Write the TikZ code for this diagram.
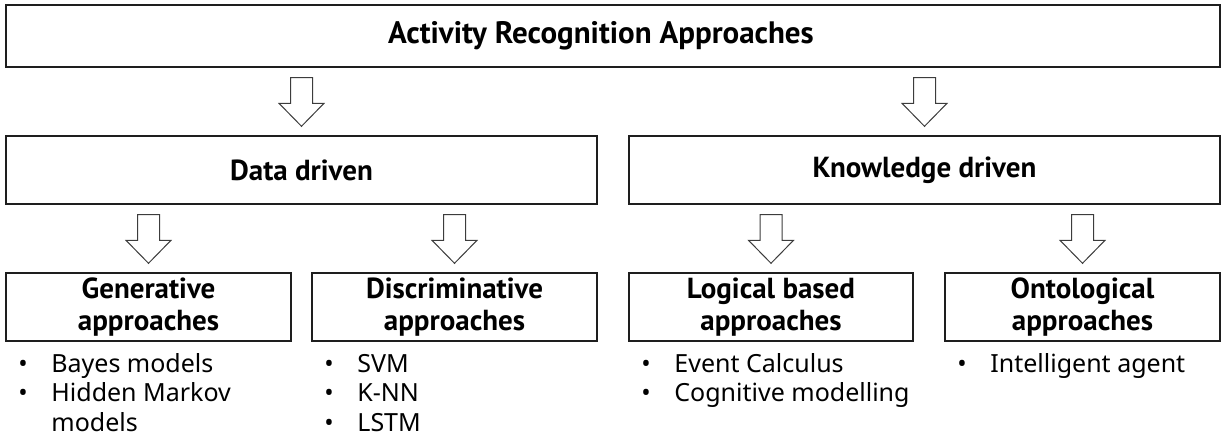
\documentclass[tikz,border=0pt]{standalone}
\usepackage{fontspec}
\setmainfont{Noto Sans}
\newfontfamily\headfont{PT Sans}
\usetikzlibrary{positioning,calc}
\definecolor{BoxLine}{RGB}{30,30,30}
\definecolor{ArrowLine}{RGB}{60,60,60}
\tikzset{
  box/.style={draw=BoxLine,line width=0.7pt,inner sep=0pt,align=center,
    font=\headfont\bfseries\fontsize{14.5}{16}\selectfont},
  blockarr/.style={draw=ArrowLine,fill=white,line width=0.5pt,line join=miter},
  itm/.style={anchor=base west,inner sep=0pt,font=\fontsize{12.5}{14}\selectfont},
}
% hollow block arrow from the bottom of #1 down to the top of #2
\newcommand{\blockdown}[2]{%
  \draw[blockarr] let \p1=($(#2.north |- #1.south)+(0,10)$), \p2=($(#2.north)+(0,-9)$) in
    (\x1-5.5pt,\y1) -- (\x1+5.5pt,\y1) -- (\x1+5.5pt,\y2+11.5pt) -- (\x1+11.25pt,\y2+11.5pt)
    -- (\x2,\y2) -- (\x1-11.25pt,\y2+11.5pt) -- (\x1-5.5pt,\y2+11.5pt) -- cycle;}
\newcommand{\bul}{\makebox[16.5pt][l]{\textbullet}}
\newcommand{\nobul}{\hspace*{16.5pt}}

\begin{document}
\begin{tikzpicture}[x=0.5pt,y=-0.5pt]
\useasboundingbox (0,0) rectangle (1223,440);
% boxes
\node[box,minimum width=607pt,minimum height=31pt,font=\headfont\bfseries\fontsize{15.5}{16}\selectfont] (arap) at (613,36) {Activity Recognition Approaches\hspace*{12pt}};
\node[box,minimum width=295.5pt,minimum height=34pt] (data) at (301.5,170) {Data driven};
\node[box,minimum width=295.5pt,minimum height=34pt] (know) at (924.5,170) {Knowledge driven};
\node[box,minimum width=142.5pt,minimum height=34pt] (gen) at (148.5,307) {Generative\\approaches};
\node[box,minimum width=142.5pt,minimum height=34pt] (disc) at (454.5,307) {Discriminative\\approaches};
\node[box,minimum width=142pt,minimum height=34pt] (logic) at (771,307) {Logical based\\approaches};
\node[box,minimum width=137.5pt,minimum height=34pt] (onto) at (1082.5,307) {Ontological\\approaches};
% arrows
\blockdown{arap}{data}
\blockdown{arap}{know}
\blockdown{data}{gen}
\blockdown{data}{disc}
\blockdown{know}{logic}
\blockdown{know}{onto}
% lists
\node[itm] (gen1) at (18,372) {\bul Bayes models};
\node[itm] (gen2) at (18,401.5) {\bul Hidden Markov};
\node[itm] (gen3) at (18,431) {\nobul models};
\node[itm] (disc1) at (324,372) {\bul SVM};
\node[itm] (disc2) at (324,401.5) {\bul K-NN};
\node[itm] (disc3) at (324,431) {\bul LSTM};
\node[itm] (logic1) at (641,372) {\bul Event Calculus};
\node[itm] (logic2) at (641,401.5) {\bul Cognitive modelling};
\node[itm] (onto1) at (957,372) {\bul Intelligent agent};
\end{tikzpicture}
\end{document}
